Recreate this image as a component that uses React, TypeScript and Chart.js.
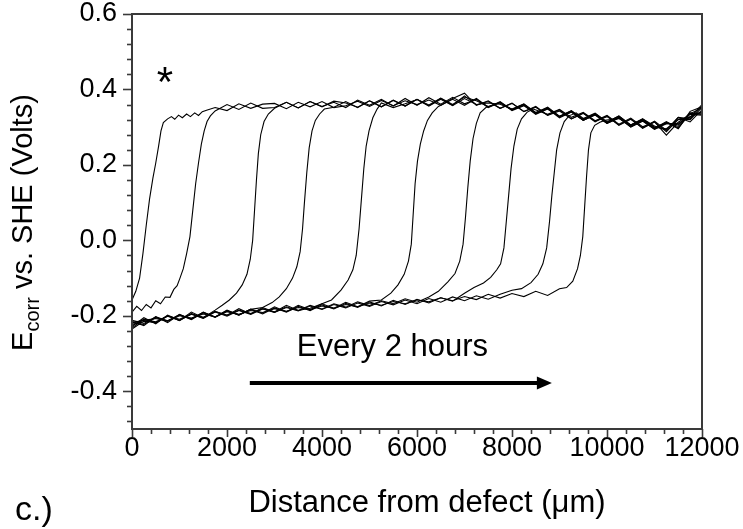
import React, { useEffect, useRef } from "react";
import { Chart, registerables } from "chart.js";

Chart.register(...registerables);

// ---------- axes ----------
const X_MIN = 0;
const X_MAX = 12000;
const X_TICKS = [0, 2000, 4000, 6000, 8000, 10000, 12000];
const Y_MIN = -0.5;
const Y_MAX = 0.6;
const Y_TICKS = [-0.4, -0.2, 0, 0.2, 0.4, 0.6];

// ---------- data: [distance µm, Ecorr V vs SHE] ----------
const scan1: number[][] = [
  [0,-0.158],[80,-0.135],[160,-0.1],[230,-0.035],[300,0.04],[370,0.11],[440,0.165],[500,0.205],[560,0.25],[610,0.29],[660,0.312],
  [750,0.322],[830,0.328],[900,0.321],[980,0.332],[1060,0.325],[1150,0.335],[1230,0.328],[1320,0.338],[1400,0.331],[1480,0.341],[1570,0.345],
  [1750,0.352],[2000,0.344],[2250,0.362],[2500,0.35],[2750,0.361],[3000,0.363],[3250,0.349],[3500,0.366],[3750,0.354],[4000,0.368],
  [4250,0.352],[4500,0.357],[4750,0.369],[5000,0.355],[5250,0.371],[5500,0.357],[5750,0.37],[6000,0.36],[6250,0.372],[6500,0.358],
  [6750,0.376],[7000,0.39],[7250,0.358],[7500,0.37],[7750,0.35],[8000,0.364],[8250,0.342],[8500,0.353],[8750,0.331],[9000,0.343],
  [9250,0.322],[9500,0.337],[9750,0.316],[10000,0.328],[10250,0.306],[10500,0.322],[10750,0.297],[11000,0.314],[11250,0.288],
  [11500,0.321],[11750,0.32],[12000,0.352],
];

const scan2: number[][] = [
  [0,-0.19],[100,-0.175],[200,-0.186],[300,-0.17],[400,-0.179],[500,-0.16],[600,-0.168],[700,-0.15],[800,-0.151],[880,-0.13],
  [950,-0.12],[1010,-0.1],[1080,-0.075],[1150,-0.035],[1220,0.01],[1280,0.08],[1340,0.15],[1400,0.205],[1460,0.255],[1520,0.29],
  [1580,0.315],[1650,0.33],[1750,0.343],
  [2000,0.36],[2250,0.347],[2500,0.364],[2750,0.35],[3000,0.352],[3250,0.366],[3500,0.351],[3750,0.368],[4000,0.354],[4250,0.369],
  [4500,0.364],[4750,0.353],[5000,0.37],[5250,0.354],[5500,0.372],[5750,0.356],[6000,0.374],[6250,0.359],[6500,0.377],[6750,0.36],
  [7000,0.38],[7250,0.37],[7500,0.355],[7750,0.366],[8000,0.346],[8250,0.358],[8500,0.336],[8750,0.35],[9000,0.327],[9250,0.34],
  [9500,0.319],[9750,0.333],[10000,0.311],[10250,0.325],[10500,0.302],[10750,0.317],[11000,0.295],[11250,0.312],[11500,0.302],
  [11750,0.336],[12000,0.338],
];

const scan3: number[][] = [
  [0,-0.228],[250,-0.205],[500,-0.221],[750,-0.198],[1000,-0.212],[1250,-0.19],[1500,-0.205],[1750,-0.185],[1900,-0.172],[2050,-0.158],
  [2200,-0.14],[2320,-0.118],[2420,-0.09],[2490,-0.05],[2540,0.0],[2580,0.08],[2620,0.16],[2660,0.23],[2710,0.28],[2780,0.315],
  [2870,0.335],[3000,0.35],
  [3250,0.366],[3500,0.351],[3750,0.368],[4000,0.355],[4250,0.366],[4500,0.352],[4750,0.372],[5000,0.358],[5250,0.374],[5500,0.356],
  [5750,0.376],[6000,0.358],[6250,0.378],[6500,0.361],[6750,0.379],[7000,0.362],[7250,0.374],[7500,0.352],[7750,0.366],[8000,0.344],
  [8250,0.357],[8500,0.334],[8750,0.348],[9000,0.328],[9250,0.342],[9500,0.318],[9750,0.334],[10000,0.31],[10250,0.326],[10500,0.301],
  [10750,0.318],[11000,0.297],[11250,0.313],[11500,0.296],[11750,0.342],[12000,0.354],
];

const scan4: number[][] = [
  [0,-0.215],[250,-0.226],[500,-0.202],[750,-0.218],[1000,-0.196],[1250,-0.209],[1500,-0.19],[1750,-0.203],[2000,-0.186],[2250,-0.197],
  [2500,-0.183],[2750,-0.178],[2950,-0.165],[3100,-0.15],[3250,-0.128],[3380,-0.1],[3470,-0.07],[3540,-0.03],[3590,0.03],[3630,0.1],
  [3680,0.18],[3730,0.245],[3790,0.29],[3860,0.318],[3950,0.335],[4050,0.348],
  [4250,0.353],[4500,0.368],[4750,0.352],[5000,0.37],[5250,0.354],[5500,0.371],[5750,0.356],[6000,0.374],[6250,0.357],[6500,0.376],
  [6750,0.358],[7000,0.383],[7250,0.359],[7500,0.368],[7750,0.35],[8000,0.363],[8250,0.341],[8500,0.355],[8750,0.332],[9000,0.346],
  [9250,0.322],[9500,0.337],[9750,0.314],[10000,0.33],[10250,0.305],[10500,0.321],[10750,0.298],[11000,0.316],[11250,0.292],
  [11500,0.326],[11750,0.322],[12000,0.356],
];

const scan5: number[][] = [
  [0,-0.232],[250,-0.209],[500,-0.219],[750,-0.2],[1000,-0.213],[1250,-0.194],[1500,-0.206],[1750,-0.188],[2000,-0.199],[2250,-0.181],
  [2500,-0.195],[2750,-0.178],[3000,-0.19],[3250,-0.172],[3500,-0.186],[3750,-0.18],[4000,-0.168],[4200,-0.158],[4400,-0.132],
  [4550,-0.105],[4650,-0.078],[4720,-0.04],[4780,0.03],[4830,0.11],[4880,0.19],[4930,0.25],[4990,0.29],[5070,0.325],[5160,0.348],
  [5250,0.364],[5500,0.352],[5750,0.362],[6000,0.373],[6250,0.356],[6500,0.374],[6750,0.357],[7000,0.376],[7250,0.36],[7500,0.364],
  [7750,0.361],[8000,0.348],[8250,0.362],[8500,0.339],[8750,0.351],[9000,0.328],[9250,0.343],[9500,0.321],[9750,0.335],[10000,0.312],
  [10250,0.328],[10500,0.304],[10750,0.32],[11000,0.3],[11250,0.31],[11500,0.306],[11750,0.338],[12000,0.334],
];

const scan6: number[][] = [
  [0,-0.219],[250,-0.223],[500,-0.205],[750,-0.214],[1000,-0.198],[1250,-0.208],[1500,-0.191],[1750,-0.203],[2000,-0.185],[2250,-0.198],
  [2500,-0.182],[2750,-0.193],[3000,-0.176],[3250,-0.189],[3500,-0.172],[3750,-0.184],[4000,-0.168],[4250,-0.18],[4500,-0.164],
  [4750,-0.176],[5000,-0.161],[5250,-0.158],[5450,-0.14],[5600,-0.118],[5730,-0.09],[5820,-0.055],[5880,-0.01],[5920,0.07],[5960,0.15],
  [6010,0.21],[6070,0.255],[6140,0.29],[6220,0.318],[6320,0.338],[6450,0.355],
  [6750,0.374],[7000,0.358],[7250,0.376],[7500,0.353],[7750,0.368],[8000,0.346],[8250,0.36],[8500,0.338],[8750,0.353],[9000,0.329],
  [9250,0.344],[9500,0.32],[9750,0.336],[10000,0.313],[10250,0.33],[10500,0.306],[10750,0.322],[11000,0.3],[11250,0.296],[11500,0.32],
  [11750,0.326],[12000,0.36],
];

const scan7: number[][] = [
  [0,-0.226],[250,-0.21],[500,-0.216],[750,-0.2],[1000,-0.209],[1250,-0.195],[1500,-0.204],[1750,-0.189],[2000,-0.198],[2250,-0.185],
  [2500,-0.194],[2750,-0.181],[3000,-0.19],[3250,-0.176],[3500,-0.186],[3750,-0.172],[4000,-0.182],[4250,-0.168],[4500,-0.177],
  [4750,-0.163],[5000,-0.173],[5250,-0.16],[5500,-0.168],[5750,-0.155],[6000,-0.164],[6250,-0.15],[6450,-0.135],[6650,-0.11],
  [6800,-0.088],[6900,-0.055],[6970,-0.01],[7020,0.06],[7070,0.14],[7120,0.21],[7180,0.27],[7250,0.31],[7330,0.338],[7450,0.352],
  [7750,0.364],[8000,0.347],[8250,0.361],[8500,0.336],[8750,0.349],[9000,0.325],[9250,0.34],[9500,0.318],[9750,0.332],[10000,0.31],
  [10250,0.324],[10500,0.3],[10750,0.316],[11000,0.294],[11250,0.309],[11500,0.31],[11750,0.328],[12000,0.34],
];

const scan8: number[][] = [
  [0,-0.212],[250,-0.22],[500,-0.203],[750,-0.213],[1000,-0.197],[1250,-0.21],[1500,-0.192],[1750,-0.204],[2000,-0.187],[2250,-0.198],
  [2500,-0.183],[2750,-0.195],[3000,-0.179],[3250,-0.19],[3500,-0.175],[3750,-0.186],[4000,-0.171],[4250,-0.182],[4500,-0.167],
  [4750,-0.178],[5000,-0.163],[5250,-0.174],[5500,-0.159],[5750,-0.17],[6000,-0.156],[6250,-0.166],[6500,-0.152],[6750,-0.161],
  [7000,-0.14],[7200,-0.125],[7400,-0.113],[7550,-0.098],[7680,-0.078],[7760,-0.062],[7830,-0.02],[7880,0.05],[7930,0.12],[7980,0.19],
  [8040,0.25],[8110,0.295],[8200,0.322],[8320,0.34],[8450,0.348],
  [8750,0.334],[9000,0.347],[9250,0.326],[9500,0.339],[9750,0.317],[10000,0.331],[10250,0.308],[10500,0.324],[10750,0.301],[11000,0.314],
  [11250,0.279],[11500,0.313],[11750,0.334],[12000,0.332],
];

const scan9: number[][] = [
  [0,-0.235],[250,-0.214],[500,-0.218],[750,-0.201],[1000,-0.212],[1250,-0.196],[1500,-0.207],[1750,-0.19],[2000,-0.201],[2250,-0.186],
  [2500,-0.196],[2750,-0.182],[3000,-0.191],[3250,-0.178],[3500,-0.187],[3750,-0.174],[4000,-0.183],[4250,-0.17],[4500,-0.179],
  [4750,-0.166],[5000,-0.175],[5250,-0.162],[5500,-0.171],[5750,-0.158],[6000,-0.168],[6250,-0.154],[6500,-0.164],[6750,-0.15],
  [7000,-0.16],[7250,-0.147],[7500,-0.156],[7750,-0.143],[8000,-0.132],[8200,-0.128],[8400,-0.112],[8550,-0.09],[8650,-0.062],
  [8730,-0.02],[8790,0.05],[8840,0.12],[8890,0.18],[8940,0.24],[9010,0.285],[9100,0.315],[9200,0.33],[9350,0.338],
  [9500,0.323],[9750,0.337],[10000,0.314],[10250,0.329],[10500,0.305],[10750,0.32],[11000,0.297],[11250,0.315],[11500,0.298],
  [11750,0.336],[12000,0.351],
];

const scan10: number[][] = [
  [0,-0.218],[250,-0.212],[500,-0.207],[750,-0.214],[1000,-0.2],[1250,-0.206],[1500,-0.195],[1750,-0.203],[2000,-0.189],[2250,-0.196],
  [2500,-0.186],[2750,-0.191],[3000,-0.181],[3250,-0.188],[3500,-0.178],[3750,-0.183],[4000,-0.174],[4250,-0.18],[4500,-0.17],
  [4750,-0.176],[5000,-0.166],[5250,-0.172],[5500,-0.162],[5750,-0.168],[6000,-0.158],[6250,-0.163],[6500,-0.152],[6750,-0.16],
  [7000,-0.149],[7250,-0.157],[7500,-0.143],[7750,-0.153],[8000,-0.141],[8250,-0.149],[8500,-0.135],[8750,-0.146],[9000,-0.128],
  [9150,-0.125],[9280,-0.108],[9380,-0.075],[9440,-0.04],[9490,0.01],[9530,0.09],[9570,0.17],[9610,0.24],[9660,0.285],[9740,0.305],
  [9850,0.313],[9950,0.318],
  [10250,0.323],[10500,0.306],[10750,0.322],[11000,0.303],[11250,0.292],[11500,0.326],[11750,0.314],[12000,0.346],
];

const SCANS = [scan1, scan2, scan3, scan4, scan5, scan6, scan7, scan8, scan9, scan10];

// ---------- annotations (data coordinates) ----------
const STAR_LABEL = "*";
const STAR_AT = [695, 0.438];
const NOTE_LABEL = "Every 2 hours";
const NOTE_AT = [5484, -0.306];
const ARROW_FROM = [2480, -0.378];
const ARROW_TO = [8840, -0.378];
const X_TITLE = "Distance from defect (\u03bcm)";
const Y_TITLE_MAIN = "E";
const Y_TITLE_SUB = "corr";
const Y_TITLE_REST = " vs. SHE (Volts)";
const PANEL_LABEL = "c.)";

const FONT = '"Liberation Sans", Arial, Helvetica, sans-serif';
const AXIS_COLOR = "#3a3a3a";

const decorPlugin = {
  id: "decor",
  afterDraw(chart: any) {
    const { ctx, chartArea: ca } = chart;
    const xs = chart.scales.x;
    const ys = chart.scales.y;
    ctx.save();

    // frame
    ctx.strokeStyle = AXIS_COLOR;
    ctx.lineWidth = 2;
    ctx.strokeRect(ca.left, ca.top, ca.right - ca.left, ca.bottom - ca.top);

    // y ticks (outward, minor every 0.04)
    ctx.lineWidth = 1.6;
    for (let k = -12; k <= 15; k++) {
      const py = Math.round(ys.getPixelForValue(k * 0.04)) + 0.5;
      const len = k % 5 === 0 ? 9 : 5;
      ctx.beginPath();
      ctx.moveTo(ca.left - len, py);
      ctx.lineTo(ca.left, py);
      ctx.stroke();
    }
    // x ticks (outward, minor every 400)
    for (let k = 0; k <= 30; k++) {
      const px = Math.round(xs.getPixelForValue(k * 400)) + 0.5;
      const len = k % 5 === 0 ? 8 : 5;
      ctx.beginPath();
      ctx.moveTo(px, ca.bottom);
      ctx.lineTo(px, ca.bottom + len);
      ctx.stroke();
    }

    ctx.fillStyle = "#000";

    // star
    ctx.font = `42px ${FONT}`;
    ctx.textAlign = "center";
    ctx.textBaseline = "alphabetic";
    const sm = ctx.measureText(STAR_LABEL);
    const sx = xs.getPixelForValue(STAR_AT[0]);
    const sy = ys.getPixelForValue(STAR_AT[1]);
    const sBase = sy - (sm.actualBoundingBoxDescent - sm.actualBoundingBoxAscent) / 2;
    ctx.fillText(STAR_LABEL, sx, sBase);

    // note
    ctx.font = `31px ${FONT}`;
    ctx.fillText(NOTE_LABEL, xs.getPixelForValue(NOTE_AT[0]), ys.getPixelForValue(NOTE_AT[1]));

    // arrow
    const ax0 = xs.getPixelForValue(ARROW_FROM[0]);
    const ay = ys.getPixelForValue(ARROW_FROM[1]);
    const ax1 = xs.getPixelForValue(ARROW_TO[0]);
    const head = 15;
    ctx.strokeStyle = "#000";
    ctx.lineWidth = 4;
    ctx.beginPath();
    ctx.moveTo(ax0, ay);
    ctx.lineTo(ax1 - head + 2, ay);
    ctx.stroke();
    ctx.beginPath();
    ctx.moveTo(ax1, ay);
    ctx.lineTo(ax1 - head, ay - 6.5);
    ctx.lineTo(ax1 - head, ay + 6.5);
    ctx.closePath();
    ctx.fill();

    // x title
    ctx.font = `31px ${FONT}`;
    ctx.textAlign = "center";
    ctx.fillText(X_TITLE, (ca.left + ca.right) / 2 + 10, ca.bottom + 83);

    // y title with subscript
    const mainFont = `29px ${FONT}`;
    const subFont = `20px ${FONT}`;
    ctx.font = mainFont;
    const wE = ctx.measureText(Y_TITLE_MAIN).width;
    const wRest = ctx.measureText(Y_TITLE_REST).width;
    ctx.font = subFont;
    const wSub = ctx.measureText(Y_TITLE_SUB).width;
    const total = wE + wSub + wRest;
    const cy = (ca.top + ca.bottom) / 2 + 1;
    ctx.translate(ca.left - 100, cy + total / 2);
    ctx.rotate(-Math.PI / 2);
    ctx.textAlign = "left";
    ctx.font = mainFont;
    ctx.fillText(Y_TITLE_MAIN, 0, 0);
    ctx.font = subFont;
    ctx.fillText(Y_TITLE_SUB, wE, 7);
    ctx.font = mainFont;
    ctx.fillText(Y_TITLE_REST, wE + wSub, 0);
    ctx.setTransform(1, 0, 0, 1, 0, 0);

    // panel label
    ctx.font = `34px ${FONT}`;
    ctx.textAlign = "left";
    ctx.fillText(PANEL_LABEL, 15, 520);

    ctx.restore();
  },
};

export default function App() {
  const ref = useRef<HTMLCanvasElement | null>(null);

  useEffect(() => {
    if (!ref.current) return;
    const chart = new Chart(ref.current, {
      type: "line",
      data: {
        datasets: SCANS.map((s, i) => ({
          label: `scan ${i + 1}`,
          data: s.map(([x, y]) => ({ x, y })),
          borderColor: "#000",
          borderWidth: 1.1,
          pointRadius: 0,
          fill: false,
          tension: 0,
        })),
      },
      options: {
        responsive: false,
        animation: false,
        devicePixelRatio: 1,
        layout: { padding: { top: 14, right: 41, left: 0, bottom: 0 } },
        plugins: { legend: { display: false }, tooltip: { enabled: false } },
        scales: {
          x: {
            type: "linear",
            min: X_MIN,
            max: X_MAX,
            grid: { display: false, drawTicks: false },
            border: { display: false },
            afterBuildTicks: (s: any) => {
              s.ticks = X_TICKS.map((v) => ({ value: v }));
            },
            ticks: {
              color: "#000",
              font: { family: FONT, size: 27 },
              padding: 3,
              maxRotation: 0,
              autoSkip: false,
              callback: (v: any) => String(v),
            },
            afterFit: (s: any) => {
              s.height = 100;
              s.paddingLeft = 0;
              s.paddingRight = 0;
            },
          },
          y: {
            type: "linear",
            min: Y_MIN,
            max: Y_MAX,
            grid: { display: false, drawTicks: false },
            border: { display: false },
            afterBuildTicks: (s: any) => {
              s.ticks = Y_TICKS.map((v) => ({ value: v }));
            },
            ticks: {
              color: "#000",
              font: { family: FONT, size: 27 },
              padding: 15,
              autoSkip: false,
              callback: (v: any) => (Math.abs(Number(v)) < 1e-9 ? "0.0" : Number(v).toFixed(1)),
            },
            afterFit: (s: any) => {
              s.width = 132;
              s.paddingTop = 0;
              s.paddingBottom = 0;
            },
          },
        },
      },
      plugins: [decorPlugin],
    });
    return () => chart.destroy();
  }, []);

  return (
    <div style={{ position: "fixed", left: 0, top: 0, width: 743, height: 529, background: "#fff" }}>
      <canvas ref={ref} width={743} height={529} style={{ display: "block" }} />
    </div>
  );
}
